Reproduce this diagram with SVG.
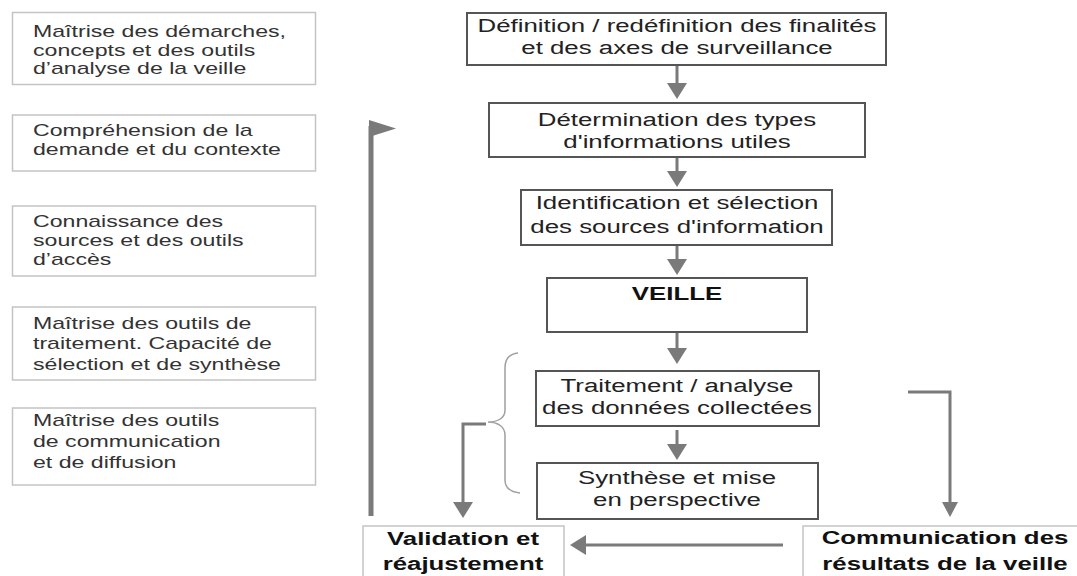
<svg xmlns="http://www.w3.org/2000/svg" width="1077" height="576" viewBox="0 0 1077 576">
<style>
.lbox{fill:#fff;stroke:#c4c4c4;stroke-width:1.5}
.box{fill:#fff;stroke:#555;stroke-width:2}
.lt{font-family:"Liberation Sans",Arial,sans-serif;font-size:17px;fill:#333}
.ct{font-family:"Liberation Sans",Arial,sans-serif;font-size:19px;fill:#222;text-anchor:middle}
.bt{font-family:"Liberation Sans",Arial,sans-serif;font-size:19px;font-weight:bold;fill:#111;text-anchor:middle}
.ar{fill:none;stroke:#7a7a7a;stroke-width:3}
</style>
<defs>
<marker id="ah" markerUnits="userSpaceOnUse" markerWidth="16" markerHeight="20" refX="2" refY="10" orient="auto" viewBox="0 0 16 20">
<path d="M0,0 L16,10 L0,20 z" fill="#7a7a7a"/>
</marker>
<marker id="ahs" markerUnits="userSpaceOnUse" markerWidth="15" markerHeight="16" refX="2" refY="8" orient="auto" viewBox="0 0 15 16">
<path d="M0,0 L15,8 L0,16 z" fill="#7a7a7a"/>
</marker>
</defs>

<g id="left1">
<rect class="lbox" x="12.5" y="12.5" width="303" height="72"/>
<g transform="translate(33 0) scale(1.36 1)">
<text class="lt" x="0" y="37">Maîtrise des démarches,</text>
<text class="lt" x="0" y="56">concepts et des outils</text>
<text class="lt" x="0" y="74">d’analyse de la veille</text>
</g>
</g>
<g id="left2">
<rect class="lbox" x="12.5" y="115" width="303" height="56"/>
<g transform="translate(33 0) scale(1.36 1)">
<text class="lt" x="0" y="136">Compréhension de la</text>
<text class="lt" x="0" y="155">demande et du contexte</text>
</g>
</g>
<g id="left3">
<rect class="lbox" x="12.5" y="206" width="303" height="70"/>
<g transform="translate(33 0) scale(1.36 1)">
<text class="lt" x="0" y="227">Connaissance des</text>
<text class="lt" x="0" y="246">sources et des outils</text>
<text class="lt" x="0" y="265">d’accès</text>
</g>
</g>
<g id="left4">
<rect class="lbox" x="12.5" y="307" width="303" height="73"/>
<g transform="translate(33 0) scale(1.36 1)">
<text class="lt" x="0" y="329">Maîtrise des outils de</text>
<text class="lt" x="0" y="349">traitement. Capacité de</text>
<text class="lt" x="0" y="370">sélection et de synthèse</text>
</g>
</g>
<g id="left5">
<rect class="lbox" x="12.5" y="408" width="303" height="77"/>
<g transform="translate(33 0) scale(1.36 1)">
<text class="lt" x="0" y="426">Maîtrise des outils</text>
<text class="lt" x="0" y="447">de communication</text>
<text class="lt" x="0" y="468">et de diffusion</text>
</g>
</g>

<g id="n1">
<rect class="box" x="467" y="13" width="419" height="52"/>
<g transform="translate(677 0) scale(1.36 1)">
<text class="ct" x="0" y="32">Définition / redéfinition des finalités</text>
<text class="ct" x="0" y="54">et des axes de surveillance</text>
</g>
</g>
<g id="n2">
<rect class="box" x="489" y="103" width="376" height="54"/>
<g transform="translate(677 0) scale(1.36 1)">
<text class="ct" x="0" y="126">Détermination des types</text>
<text class="ct" x="0" y="148">d'informations utiles</text>
</g>
</g>
<g id="n3">
<rect class="box" x="521" y="190" width="311" height="55"/>
<g transform="translate(677 0) scale(1.36 1)">
<text class="ct" x="0" y="209">Identification et sélection</text>
<text class="ct" x="0" y="233">des sources d'information</text>
</g>
</g>
<g id="n4">
<rect class="box" x="547" y="278" width="260" height="54"/>
<g transform="translate(677 0) scale(1.36 1)">
<text class="bt" x="0" y="300">VEILLE</text>
</g>
</g>
<g id="n5">
<rect class="box" x="536" y="371" width="283" height="55"/>
<g transform="translate(677 0) scale(1.36 1)">
<text class="ct" x="0" y="392">Traitement / analyse</text>
<text class="ct" x="0" y="414">des données collectées</text>
</g>
</g>
<g id="n6">
<rect class="box" x="537" y="463" width="281" height="56"/>
<g transform="translate(677 0) scale(1.36 1)">
<text class="ct" x="0" y="484">Synthèse et mise</text>
<text class="ct" x="0" y="506">en perspective</text>
</g>
</g>
<g id="n7">
<rect class="lbox" x="363" y="526" width="201" height="60"/>
<g transform="translate(463 0) scale(1.36 1)">
<text class="bt" x="0" y="545">Validation et</text>
<text class="bt" x="0" y="570">réajustement</text>
</g>
</g>
<g id="n8">
<rect class="lbox" x="803" y="526" width="290" height="60"/>
<g transform="translate(945 0) scale(1.36 1)">
<text class="bt" x="0" y="544">Communication des</text>
<text class="bt" x="0" y="570">résultats de la veille</text>
</g>
</g>

<g id="connectors">
<line class="ar" x1="677" y1="66" x2="677" y2="85" marker-end="url(#ah)"/>
<line class="ar" x1="677" y1="158" x2="677" y2="173" marker-end="url(#ah)"/>
<line class="ar" x1="677" y1="246" x2="677" y2="261" marker-end="url(#ah)"/>
<line class="ar" x1="677" y1="333" x2="677" y2="350" marker-end="url(#ah)"/>
<line class="ar" x1="677" y1="430" x2="677" y2="446" marker-end="url(#ah)"/>
<line class="ar" x1="783" y1="545" x2="584" y2="545" stroke-width="4" marker-end="url(#ah)"/>
<polyline class="ar" points="486,424 463,424 463,504" marker-end="url(#ah)"/>
<polyline class="ar" points="908,392 950,392 950,504" stroke-width="2.5" marker-end="url(#ahs)"/>
<line x1="371" y1="516" x2="371" y2="126" stroke="#7a7a7a" stroke-width="5"/>
<polygon points="369,120 396,128.5 369,137" fill="#7a7a7a"/>
<path d="M518,353 C508,354 505,360 505,368 L505,410 C505,418 498,422 488,422 C498,422 505,427 505,435 L505,480 C505,488 510,492 520,493" fill="none" stroke="#a0a0a0" stroke-width="1.5"/>
</g>
</svg>
